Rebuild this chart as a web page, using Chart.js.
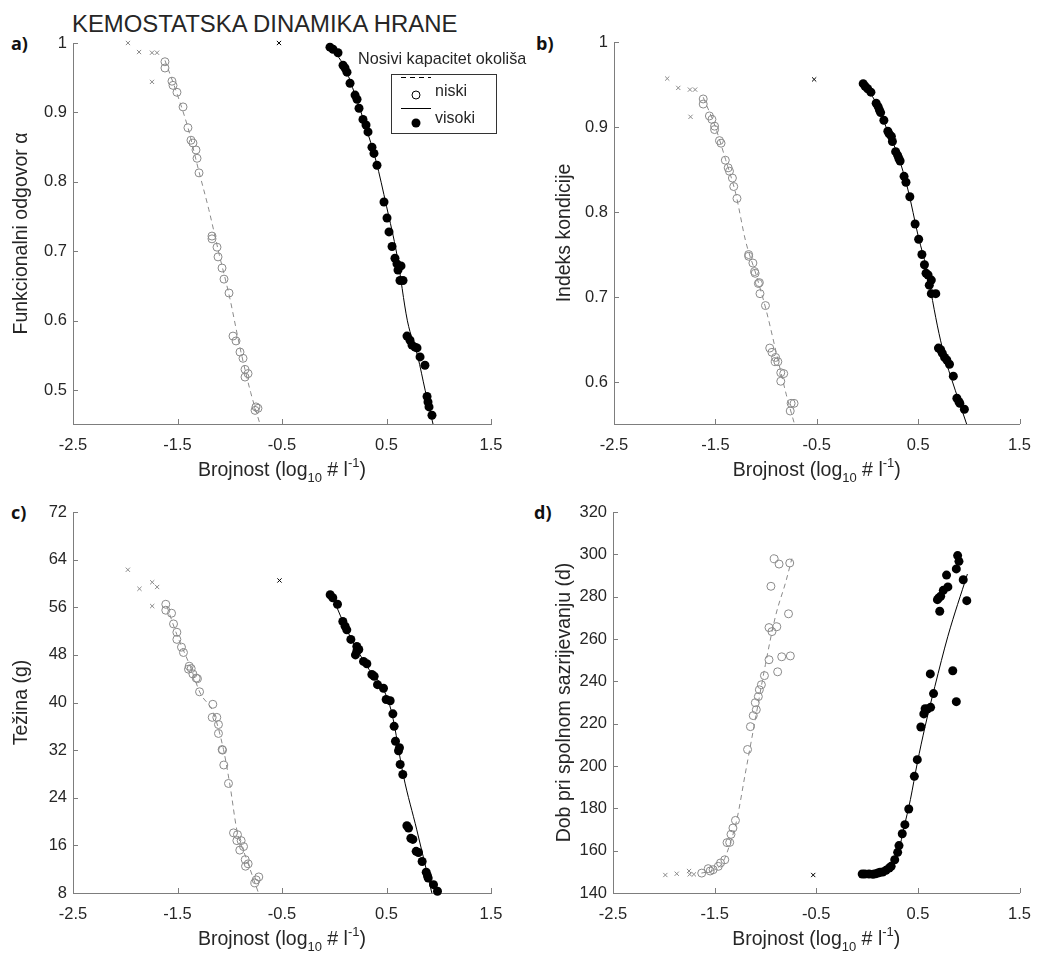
<!DOCTYPE html>
<html>
<head>
<meta charset="utf-8">
<script src="https://cdn.jsdelivr.net/npm/chart.js@4.4.0/dist/chart.umd.min.js"></script>
<style>
  body { margin: 0; background: #fff; width: 1043px; height: 954px; position: relative; overflow: hidden;
         font-family: 'Liberation Sans', Arial, sans-serif; color: #262626; }
  .pan { position: absolute; }
  .lbl { position: absolute; font: bold 18px 'Open Sans', sans-serif; color: #111; }
  #naslov { position: absolute; left: 72px; top: 10px; font-size: 23.9px; white-space: nowrap; }
  #legNaslov { position: absolute; left: 358px; top: 49px; font-size: 16.2px; white-space: nowrap; }
  #legenda { position: absolute; left: 391px; top: 74px; width: 104px; height: 58px; border: 1px solid #333; background: #fff; }
</style>
</head>
<body>
<div id="naslov">KEMOSTATSKA DINAMIKA HRANE</div>
<div class="lbl" style="left:11px;top:31px">a)</div>
<div class="lbl" style="left:536px;top:31px">b)</div>
<div class="lbl" style="left:11px;top:500px">c)</div>
<div class="lbl" style="left:534px;top:500px">d)</div>

<div class="pan" style="left:0;top:0"><canvas id="ca" width="521" height="490"></canvas></div>
<div class="pan" style="left:521px;top:0"><canvas id="cb" width="522" height="490"></canvas></div>
<div class="pan" style="left:0;top:490px"><canvas id="cc" width="521" height="464"></canvas></div>
<div class="pan" style="left:521px;top:490px"><canvas id="cd" width="522" height="464"></canvas></div>

<div id="legNaslov">Nosivi kapacitet okoliša</div>
<div id="legenda">
  <svg width="104" height="58" style="position:absolute;left:0;top:0">
    <line x1="9" y1="2.5" x2="39" y2="2.5" stroke="#000" stroke-width="1" stroke-dasharray="5,4"/>
    <circle cx="24" cy="20" r="4" fill="none" stroke="#000" stroke-width="1"/>
    <text x="43" y="21" font-size="16" fill="#262626" font-family="Liberation Sans, Arial">niski</text>
    <line x1="9" y1="33.5" x2="39" y2="33.5" stroke="#000" stroke-width="1"/>
    <circle cx="24" cy="48" r="4.5" fill="#000"/>
    <text x="43" y="48" font-size="16" fill="#262626" font-family="Liberation Sans, Arial">visoki</text>
  </svg>
</div>

<script>
// zajednicke osi
const xTicks = [-2.5, -1.5, -0.5, 0.5, 1.5];
const aTicks = [0.5, 0.6, 0.7, 0.8, 0.9, 1];
const bTicks = [0.6, 0.7, 0.8, 0.9, 1];
const cTicks = [8, 16, 24, 32, 40, 48, 56, 64, 72];
const dTicks = [140, 160, 180, 200, 220, 240, 260, 280, 300, 320];

// a) funkcionalni odgovor
const aNiskiIsklj = [[-1.974, 1.0], [-1.868, 0.987], [-1.744, 0.986], [-1.696, 0.986], [-1.744, 0.944]];
const aVisokiIsklj = [[-0.529, 1.0]];
const aNiski = [[-1.62, 0.973], [-1.62, 0.964], [-1.553, 0.945], [-1.543, 0.939], [-1.505, 0.929], [-1.447, 0.908],
  [-1.40, 0.878], [-1.371, 0.860], [-1.352, 0.856], [-1.323, 0.846], [-1.313, 0.834], [-1.294, 0.813],
  [-1.17, 0.722], [-1.17, 0.718], [-1.122, 0.706], [-1.112, 0.692], [-1.074, 0.676], [-1.055, 0.660],
  [-1.007, 0.640], [-0.969, 0.578], [-0.94, 0.571], [-0.902, 0.555], [-0.873, 0.546], [-0.854, 0.530],
  [-0.825, 0.524], [-0.854, 0.519], [-0.749, 0.476], [-0.758, 0.471], [-0.73, 0.474]];
const aNiskiFit = [[-1.62, 0.975], [-1.5, 0.925], [-1.4, 0.878], [-1.3, 0.818], [-1.2, 0.76], [-1.1, 0.695],
  [-1.0, 0.633], [-0.9, 0.56], [-0.8, 0.497], [-0.711, 0.4514]];
const aVisoki = [[-0.041, 0.994], [-0.012, 0.991], [0.036, 0.986], [0.084, 0.968], [0.103, 0.964], [0.122, 0.958],
  [0.151, 0.942], [0.199, 0.925], [0.218, 0.919], [0.237, 0.906], [0.275, 0.890], [0.304, 0.882], [0.323, 0.872],
  [0.361, 0.850], [0.380, 0.841], [0.409, 0.824], [0.476, 0.771], [0.505, 0.748], [0.524, 0.728], [0.553, 0.707],
  [0.581, 0.690], [0.60, 0.682], [0.62, 0.679], [0.639, 0.679], [0.61, 0.673], [0.629, 0.658], [0.658, 0.658],
  [0.696, 0.578], [0.725, 0.572], [0.744, 0.565], [0.773, 0.562], [0.792, 0.561], [0.821, 0.548], [0.868, 0.536],
  [0.888, 0.491], [0.897, 0.483], [0.907, 0.476], [0.935, 0.464]];
const aVisokiFit = [[-0.05, 0.997], [0.1, 0.965], [0.2, 0.925], [0.3, 0.88], [0.4, 0.83], [0.5, 0.765], [0.6, 0.695],
  [0.7, 0.60], [0.8, 0.548], [0.87, 0.50], [0.945, 0.4514]];

// b) indeks kondicije
const bNiskiIsklj = [[-1.975, 0.957], [-1.866, 0.946], [-1.751, 0.944], [-1.70, 0.944], [-1.745, 0.912]];
const bVisokiIsklj = [[-0.526, 0.956]];
const bNiski = [[-1.62, 0.933], [-1.62, 0.927], [-1.559, 0.913], [-1.534, 0.909], [-1.508, 0.901], [-1.508, 0.897],
  [-1.46, 0.884], [-1.444, 0.881], [-1.402, 0.861], [-1.374, 0.852], [-1.361, 0.848], [-1.332, 0.840], [-1.319, 0.830],
  [-1.287, 0.816], [-1.172, 0.750], [-1.172, 0.748], [-1.13, 0.740], [-1.114, 0.730], [-1.108, 0.728], [-1.076, 0.716],
  [-1.066, 0.717], [-1.06, 0.704], [-1.006, 0.690], [-0.964, 0.640], [-0.942, 0.635], [-0.906, 0.629], [-0.884, 0.624],
  [-0.91, 0.624], [-0.855, 0.611], [-0.826, 0.610], [-0.855, 0.601], [-0.753, 0.575], [-0.724, 0.575], [-0.762, 0.566]];
const bNiskiFit = [[-1.62, 0.935], [-1.5, 0.900], [-1.4, 0.862], [-1.3, 0.822], [-1.2, 0.765], [-1.1, 0.727],
  [-1.0, 0.685], [-0.9, 0.635], [-0.8, 0.585], [-0.72, 0.5507]];
const bVisoki = [[-0.042, 0.951], [-0.023, 0.948], [0.002, 0.945], [0.034, 0.941], [0.086, 0.928], [0.105, 0.924],
  [0.118, 0.920], [0.130, 0.917], [0.162, 0.908], [0.201, 0.895], [0.214, 0.892], [0.236, 0.889], [0.246, 0.883],
  [0.278, 0.871], [0.297, 0.867], [0.31, 0.863], [0.322, 0.860], [0.361, 0.842], [0.38, 0.835], [0.418, 0.818],
  [0.47, 0.786], [0.505, 0.768], [0.537, 0.750], [0.562, 0.738], [0.578, 0.728], [0.598, 0.726], [0.63, 0.720],
  [0.61, 0.714], [0.63, 0.704], [0.674, 0.704], [0.70, 0.640], [0.722, 0.638], [0.738, 0.634], [0.761, 0.629],
  [0.783, 0.626], [0.809, 0.621], [0.847, 0.607], [0.882, 0.581], [0.902, 0.577], [0.911, 0.575], [0.956, 0.568]];
const bVisokiFit = [[-0.04, 0.952], [0.1, 0.925], [0.2, 0.895], [0.3, 0.867], [0.4, 0.826], [0.5, 0.772], [0.6, 0.725],
  [0.642, 0.696], [0.706, 0.657], [0.77, 0.626], [0.834, 0.602], [0.898, 0.579], [0.978, 0.5507]];

// c) tezina
const cNiskiIsklj = [[-1.975, 62.3], [-1.864, 59.1], [-1.742, 60.2], [-1.695, 59.4], [-1.742, 56.2]];
const cVisokiIsklj = [[-0.524, 60.5]];
const cNiski = [[-1.612, 56.5], [-1.612, 55.5], [-1.557, 55.0], [-1.538, 53.2], [-1.506, 51.8], [-1.506, 50.6],
  [-1.462, 49.3], [-1.443, 48.4], [-1.388, 46.1], [-1.369, 45.7], [-1.395, 45.6], [-1.353, 44.8], [-1.321, 44.1],
  [-1.309, 44.0], [-1.289, 41.8], [-1.162, 39.7], [-1.168, 37.5], [-1.124, 37.5], [-1.108, 36.3], [-1.108, 34.8],
  [-1.073, 32.1], [-1.069, 32.0], [-1.057, 29.5], [-1.012, 26.4], [-0.964, 18.1], [-0.926, 17.8], [-0.932, 16.8],
  [-0.891, 16.8], [-0.868, 15.8], [-0.904, 15.2], [-0.852, 13.6], [-0.824, 12.9], [-0.849, 12.5], [-0.722, 10.7],
  [-0.747, 10.2], [-0.76, 9.7]];
const cNiskiFit = [[-1.602, 56.2], [-1.506, 51.4], [-1.379, 46.1], [-1.283, 41.6], [-1.155, 38.2], [-1.06, 32.1],
  [-0.996, 25.9], [-0.932, 18.6], [-0.837, 13.6], [-0.725, 8.0]];
const cVisoki = [[-0.039, 58.1], [-0.014, 57.6], [0.031, 56.5], [0.082, 53.6], [0.104, 52.8], [0.120, 52.2],
  [0.159, 50.6], [0.216, 49.4], [0.235, 48.9], [0.203, 48.0], [0.216, 48.6], [0.28, 46.9], [0.312, 46.5],
  [0.36, 44.7], [0.382, 44.4], [0.414, 43.0], [0.471, 42.4], [0.497, 40.5], [0.535, 40.3], [0.561, 38.1],
  [0.573, 36.0], [0.586, 33.5], [0.624, 32.4], [0.615, 31.9], [0.631, 29.6], [0.656, 27.9], [0.695, 19.3],
  [0.711, 18.9], [0.733, 17.2], [0.752, 17.0], [0.784, 15.0], [0.806, 14.8], [0.841, 13.3], [0.880, 11.5],
  [0.892, 10.9], [0.899, 10.5], [0.950, 9.4], [0.988, 8.3]];
const cVisokiFit = [[-0.007, 57.3], [0.120, 52.2], [0.312, 46.1], [0.471, 42.2], [0.551, 38.2], [0.663, 27.6],
  [0.79, 18.6], [0.934, 8.0]];

// d) dob pri spolnom sazrijevanju
const dNiskiIsklj = [[-1.985, 148.5], [-1.873, 149.1], [-1.752, 150.4], [-1.745, 148.8], [-1.704, 148.8]];
const dVisokiIsklj = [[-0.53, 148.5]];
const dNiski = [[-1.627, 149.4], [-1.563, 151.5], [-1.544, 150.4], [-1.515, 151.0], [-1.464, 152.6], [-1.442, 154.2],
  [-1.40, 155.7], [-1.378, 163.8], [-1.352, 163.9], [-1.339, 167.7], [-1.32, 170.7], [-1.295, 174.3],
  [-1.176, 207.8], [-1.148, 218.6], [-1.12, 223.8], [-1.09, 226.6], [-1.10, 229.9], [-1.07, 232.8], [-1.06, 236.0],
  [-1.04, 238.4], [-1.01, 242.7], [-0.965, 250.2], [-0.88, 244.5], [-0.84, 251.6], [-0.755, 252.0], [-0.936, 263.5],
  [-0.965, 265.4], [-0.888, 265.8], [-0.773, 271.9], [-0.946, 284.9], [-0.914, 297.9], [-0.866, 295.4], [-0.761, 295.9]];
const dNiskiFit = [[-1.63, 149.4], [-1.5, 151.0], [-1.42, 154.5], [-1.35, 163], [-1.28, 175], [-1.2, 196], [-1.1, 222],
  [-1.0, 248], [-0.9, 271], [-0.8, 287], [-0.74, 298]];
const dVisoki = [[-0.048, 149.0], [-0.022, 149.0], [0.019, 149.0], [0.058, 148.8], [0.083, 149.1], [0.106, 149.4],
  [0.128, 149.8], [0.154, 149.9], [0.186, 150.7], [0.218, 151.8], [0.237, 152.6], [0.272, 155.7], [0.301, 159.2],
  [0.314, 162.4], [0.346, 168.0], [0.372, 172.3], [0.41, 179.7], [0.465, 195.1], [0.494, 203.0], [0.529, 218.4],
  [0.558, 224.6], [0.571, 227.1], [0.593, 226.9], [0.625, 227.7], [0.654, 234.2], [0.622, 243.5], [0.692, 278.6],
  [0.705, 279.4], [0.724, 280.2], [0.715, 273.1], [0.75, 283.0], [0.795, 284.6], [0.782, 290.2], [0.878, 293.1],
  [0.891, 299.4], [0.904, 296.7], [0.946, 288.0], [0.981, 278.1], [0.843, 245.0], [0.878, 230.4]];
const dVisokiFit = [[-0.048, 149.4], [0.154, 150.2], [0.234, 151.8], [0.298, 157.3], [0.362, 170.7], [0.426, 184.1],
  [0.494, 201.4], [0.571, 218.7], [0.667, 237.6], [0.795, 261.3], [0.987, 290.7]];

const siva = '#8a8a8a';
const osCol = '#7d7d7d';
const tekstCol = '#262626';
const font = "'Liberation Sans', Arial, sans-serif";

const toXY = arr => arr.map(p => ({ x: p[0], y: p[1] }));

// unutarnje crtice i naslov x osi s indeksima
const osiPlugin = {
  id: 'osiPlugin',
  afterDraw(chart) {
    const { ctx, chartArea: ca, scales: { x, y } } = chart;
    ctx.save();
    ctx.strokeStyle = osCol;
    ctx.lineWidth = 1;
    x.ticks.forEach(t => {
      const px = Math.round(x.getPixelForValue(t.value)) + 0.5;
      ctx.beginPath(); ctx.moveTo(px, ca.bottom); ctx.lineTo(px, ca.bottom - 5); ctx.stroke();
    });
    y.ticks.forEach(t => {
      const py = Math.round(y.getPixelForValue(t.value)) + 0.5;
      ctx.beginPath(); ctx.moveTo(ca.left, py); ctx.lineTo(ca.left + 5, py); ctx.stroke();
    });
    // Brojnost (log10 # l-1)
    const dijelovi = [
      { t: 'Brojnost (log', s: 19.5, dy: 0 },
      { t: '10', s: 13, dy: 6 },
      { t: ' # l', s: 19.5, dy: 0 },
      { t: '-1', s: 13, dy: -9 },
      { t: ')', s: 19.5, dy: 0 }
    ];
    let w = 0;
    dijelovi.forEach(d => { ctx.font = d.s + 'px ' + font; d.w = ctx.measureText(d.t).width; w += d.w; });
    let cx = (ca.left + ca.right) / 2 - w / 2;
    const base = ca.bottom + 52;
    ctx.fillStyle = tekstCol;
    ctx.textBaseline = 'alphabetic';
    ctx.textAlign = 'left';
    dijelovi.forEach(d => {
      ctx.font = d.s + 'px ' + font;
      ctx.fillText(d.t, cx, base + d.dy);
      cx += d.w;
    });
    ctx.restore();
  }
};

function napraviPanel(id, p) {
  const setovi = [
    { data: toXY(p.visoki), pointRadius: 4.5, pointBackgroundColor: '#000', pointBorderColor: '#000', pointBorderWidth: 0, showLine: false },
    { data: toXY(p.visokiFit), showLine: true, borderColor: '#000', borderWidth: 1, pointRadius: 0, cubicInterpolationMode: 'monotone' },
    { data: toXY(p.niski), pointRadius: 4, pointBackgroundColor: 'rgba(0,0,0,0)', pointBorderColor: siva, pointBorderWidth: 1, showLine: false },
    { data: toXY(p.niskiFit), showLine: true, borderColor: siva, borderWidth: 1, borderDash: [5, 4], pointRadius: 0, cubicInterpolationMode: 'monotone' },
    { data: toXY(p.niskiIsklj), pointStyle: 'crossRot', pointRadius: 3, pointBorderColor: siva, pointBorderWidth: 1, showLine: false },
    { data: toXY(p.visokiIsklj), pointStyle: 'crossRot', pointRadius: 3, pointBorderColor: '#000', pointBorderWidth: 1, showLine: false }
  ];
  setovi.forEach(s => { s.clip = false; });
  new Chart(document.getElementById(id), {
    type: 'scatter',
    data: { datasets: setovi },
    options: {
      responsive: false,
      animation: false,
      devicePixelRatio: 1,
      layout: { padding: { left: 0, top: p.top, right: p.right, bottom: 0 } },
      plugins: { legend: { display: false }, tooltip: { enabled: false } },
      scales: {
        x: {
          type: 'linear', min: -2.5, max: 1.5,
          afterBuildTicks: s => { s.ticks = xTicks.map(v => ({ value: v })); },
          afterFit: s => { s.height = p.xH; },
          grid: { display: false, drawTicks: false },
          border: { display: true, color: osCol, width: 1 },
          ticks: { font: { size: 16.5, family: font }, color: tekstCol, padding: 12, maxRotation: 0, autoSkip: false,
                   callback: v => String(v) }
        },
        y: {
          type: 'linear', min: p.yMin, max: p.yMax,
          afterBuildTicks: s => { s.ticks = p.yTicks.map(v => ({ value: v })); },
          afterFit: s => { s.width = p.yW; },
          grid: { display: false, drawTicks: false },
          border: { display: true, color: osCol, width: 1 },
          ticks: { font: { size: 16.5, family: font }, color: tekstCol, padding: 6, autoSkip: false,
                   callback: v => String(v) },
          title: { display: true, text: p.naslov, color: tekstCol, font: { size: 19.5, family: font },
                   padding: { top: p.tPad, bottom: 0 } }
        }
      }
    },
    plugins: [osiPlugin]
  });
}

napraviPanel('ca', { visoki: aVisoki, visokiFit: aVisokiFit, niski: aNiski, niskiFit: aNiskiFit,
  niskiIsklj: aNiskiIsklj, visokiIsklj: aVisokiIsklj, yMin: 0.4514, yMax: 1, yTicks: aTicks,
  top: 43, right: 30, xH: 66, yW: 73, tPad: 10, naslov: 'Funkcionalni odgovor α' });
napraviPanel('cb', { visoki: bVisoki, visokiFit: bVisokiFit, niski: bNiski, niskiFit: bNiskiFit,
  niskiIsklj: bNiskiIsklj, visokiIsklj: bVisokiIsklj, yMin: 0.5507, yMax: 1, yTicks: bTicks,
  top: 42, right: 12, xH: 66, yW: 93, tPad: 32, naslov: 'Indeks kondicije' });
napraviPanel('cc', { visoki: cVisoki, visokiFit: cVisokiFit, niski: cNiski, niskiFit: cNiskiFit,
  niskiIsklj: cNiskiIsklj, visokiIsklj: cVisokiIsklj, yMin: 8, yMax: 72, yTicks: cTicks,
  top: 22, right: 30, xH: 61, yW: 73, tPad: 10, naslov: 'Težina (g)' });
napraviPanel('cd', { visoki: dVisoki, visokiFit: dVisokiFit, niski: dNiski, niskiFit: dNiskiFit,
  niskiIsklj: dNiskiIsklj, visokiIsklj: dVisokiIsklj, yMin: 140, yMax: 320, yTicks: dTicks,
  top: 22, right: 13, xH: 61, yW: 92, tPad: 32, naslov: 'Dob pri spolnom sazrijevanju (d)' });
</script>
</body>
</html>
